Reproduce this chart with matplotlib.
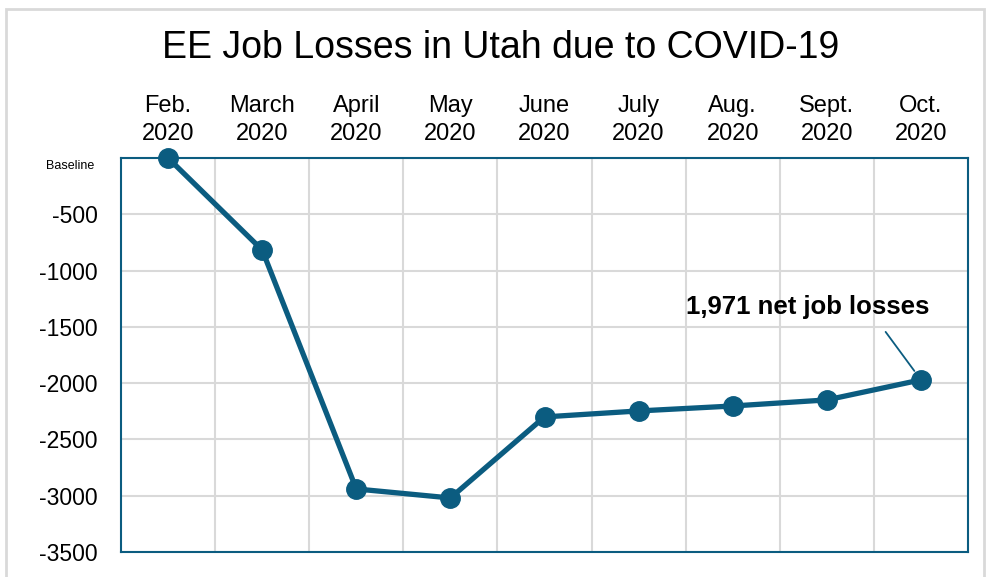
import matplotlib.pyplot as plt
from matplotlib.patches import Rectangle
from matplotlib.ticker import FixedLocator

months = ['Feb.\n2020', 'March\n2020', 'April\n2020', 'May\n2020', 'June\n2020',
          'July\n2020', 'Aug.\n2020', 'Sept.\n2020', 'Oct.\n2020']
losses = [0, -817, -2940, -3020, -2300, -2247, -2203, -2149, -1971]
y_ticks = [0, -500, -1000, -1500, -2000, -2500, -3000, -3500]
y_labels = ['', '-500', '-1000', '-1500', '-2000', '-2500', '-3000', '-3500']

line_color = '#0b5c80'
grid_color = '#d9d9d9'

plt.rcParams['font.family'] = ['Liberation Sans', 'DejaVu Sans']

fig = plt.figure(figsize=(9.86, 5.77), dpi=100)
ax = fig.add_axes([121 / 986, 1 - 552 / 577, (968 - 121) / 986, (552 - 158) / 577])

# light frame around the whole chart
fig.patches.append(Rectangle((6 / 986, -0.05), 978 / 986, 1 - 9 / 577 + 0.05,
                             transform=fig.transFigure, fill=False,
                             edgecolor=grid_color, linewidth=2))

x = list(range(len(months)))
ax.plot(x, losses, color=line_color, linewidth=3.8, marker='o', markersize=14,
        clip_on=False, zorder=3)

ax.set_xlim(-0.5, len(months) - 0.5)
ax.set_ylim(-3500, 0)

# month labels on top, grid at category boundaries
ax.xaxis.tick_top()
ax.set_xticks(x)
ax.set_xticklabels(months, fontsize=17, linespacing=1.38)
ax.xaxis.set_minor_locator(FixedLocator([i + 0.5 for i in x[:-1]]))
ax.tick_params(axis='x', which='both', length=0, pad=9)

ax.set_yticks(y_ticks)
ax.set_yticklabels(y_labels, fontsize=16.5)
ax.tick_params(axis='y', length=0, pad=17)
# the zero line is labelled "Baseline", small and a bit below the tick
ax.annotate('Baseline', xy=(0, y_ticks[0]), xycoords=('axes fraction', 'data'),
            xytext=(-19.5, -6), textcoords='offset points',
            ha='right', va='center', fontsize=9)

ax.grid(True, axis='y', color=grid_color, linewidth=1.5)
ax.grid(True, axis='x', which='minor', color=grid_color, linewidth=1.5)
ax.set_axisbelow(True)

for s in ax.spines.values():
    s.set_color(line_color)
    s.set_linewidth(1.5)

fig.text(501 / 986, 1 - 48 / 577, 'EE Job Losses in Utah due to COVID-19',
         fontsize=27, ha='center', va='center')

ax.annotate('1,971 net job losses', xy=(x[-1], losses[-1]), xytext=(6.8, -1324),
            fontsize=18.5, fontweight='bold', ha='center', va='center',
            arrowprops=dict(arrowstyle='-', color=line_color, lw=1.3,
                            relpos=(0.78, 0), shrinkA=9, shrinkB=8))

fig.savefig('out.png', dpi=100)
